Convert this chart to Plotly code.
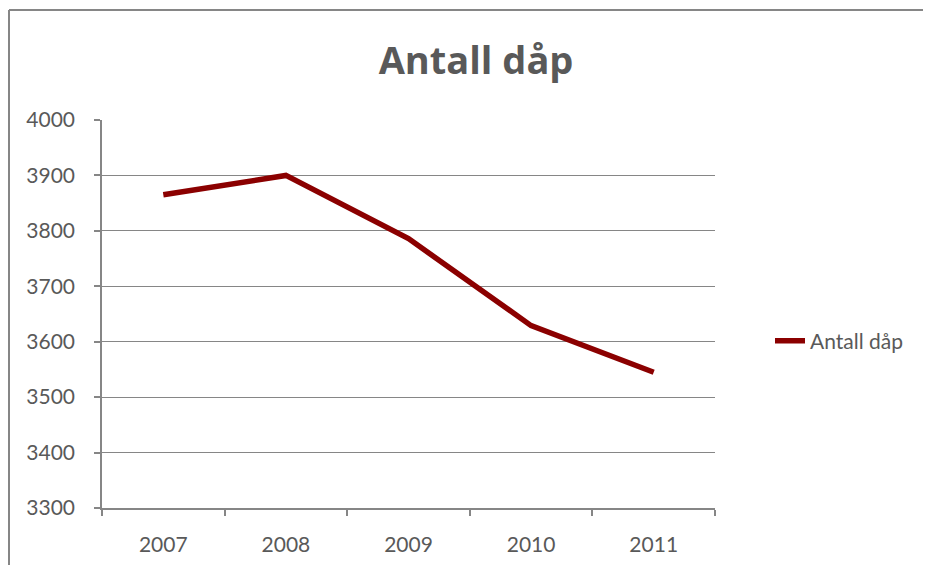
import plotly.graph_objects as go

years = ["2007", "2008", "2009", "2010", "2011"]
antall_daap = [3865, 3900, 3786, 3629, 3545]
y_ticks = [3300, 3400, 3500, 3600, 3700, 3800, 3900, 4000]

GRAY = "#868686"
TXT = "#595959"
FONT = "Lato, 'Open Sans', sans-serif"

fig = go.Figure()
fig.add_trace(go.Scatter(
    x=years, y=antall_daap, mode="lines", name="Antall dåp",
    line=dict(color="#8B0000", width=5.5),
))

fig.update_layout(
    width=931, height=565,
    margin=dict(l=94, r=224, t=112, b=65),
    paper_bgcolor="white", plot_bgcolor="white",
    font=dict(family=FONT, color=TXT, size=21),
    title=dict(text="<b>Antall dåp</b>", x=468 / 931, xref="container",
               y=1 - 53 / 565, yref="container", xanchor="center", yanchor="middle",
               font=dict(size=38, color=TXT, family="'Open Sans', sans-serif")),
    showlegend=True,
    legend=dict(x=(762 - 94) / 613, y=0.43, xanchor="left", yanchor="middle",
                font=dict(size=21, color=TXT, family=FONT),
                bgcolor="rgba(0,0,0,0)"),
    xaxis=dict(type="category", range=[-0.5, 4.5], tickson="boundaries",
               showgrid=False, showline=True, linecolor=GRAY, linewidth=1.5,
               ticks="outside", ticklen=6, tickcolor=GRAY, tickwidth=1.5,
               ticklabelstandoff=17, tickfont=dict(size=21, color=TXT), zeroline=False),
    yaxis=dict(range=[3300, 4000], tickvals=y_ticks, showgrid=True, gridcolor=GRAY,
               gridwidth=1.2, showline=True, linecolor=GRAY, linewidth=1.5,
               ticks="outside", ticklen=6, tickcolor=GRAY, tickwidth=1.5,
               ticklabelstandoff=15, tickfont=dict(size=21, color=TXT), zeroline=False),
)

# outer chart border: only the left and top edges fall inside the window
bx0 = (1 - 94) / 613
by1 = (500 - 2) / 388
fig.add_shape(type="line", xref="paper", yref="paper",
              x0=bx0, x1=bx0, y0=(500 - 2000) / 388, y1=by1,
              line=dict(color=GRAY, width=2), layer="below")
fig.add_shape(type="line", xref="paper", yref="paper",
              x0=bx0, x1=(2000 - 94) / 613, y0=by1, y1=by1,
              line=dict(color=GRAY, width=2), layer="below")

fig.write_html("out.html")
